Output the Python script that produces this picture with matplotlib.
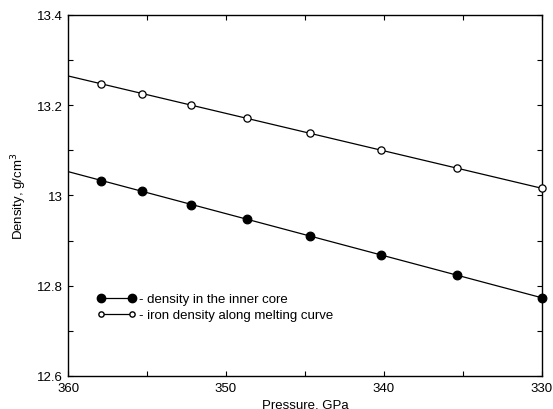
import numpy as np
import matplotlib

matplotlib.use("Agg")
import matplotlib.pyplot as plt
from matplotlib.lines import Line2D
from matplotlib.legend_handler import HandlerLine2D
from matplotlib.ticker import MultipleLocator, FuncFormatter

plt.rcParams["font.family"] = ["Liberation Sans", "DejaVu Sans"]

pressure = [357.9, 355.3, 352.2, 348.7, 344.7, 340.2, 335.4, 330.0]
density_core = [13.033, 13.009, 12.980, 12.948, 12.911, 12.869, 12.823, 12.773]
density_melt = [13.247, 13.226, 13.200, 13.172, 13.138, 13.101, 13.060, 13.016]

label_core = "- density in the inner core"
label_melt = "- iron density along melting curve"

fig = plt.figure(figsize=(5.53, 4.10), dpi=100)
ax = fig.add_axes([0.123, 0.0805, 0.857, 0.8805])

x_lim = (360, 330)
xs = np.linspace(x_lim[0], x_lim[1], 50)
for dens, filled in ((density_core, True), (density_melt, False)):
    # straight fit through the points, drawn across the whole axis
    k, b = np.polyfit(pressure, dens, 1)
    ax.plot(xs, k * xs + b, color="black", lw=0.9)
    ax.plot(pressure, dens, ls="none", marker="o",
            ms=6.2 if filled else 5.2,
            mfc="black" if filled else "white", mec="black", mew=0.9,
            clip_on=False, zorder=3)

ax.set_xlim(*x_lim)
ax.set_ylim(12.6, 13.4)
ax.xaxis.set_major_locator(MultipleLocator(10))
ax.xaxis.set_minor_locator(MultipleLocator(5))
ax.yaxis.set_major_locator(MultipleLocator(0.2))
ax.yaxis.set_minor_locator(MultipleLocator(0.1))
ax.yaxis.set_major_formatter(FuncFormatter(lambda v, p: f"{v:g}"))
ax.tick_params(which="both", direction="in", top=True, right=True,
               labelsize=9.5, length=3.5, width=0.8)
ax.tick_params(axis="x", pad=4)
for s in ax.spines.values():
    s.set_linewidth(1.0)

ax.set_xlabel("Pressure, GPa", fontsize=9.5)
ax.xaxis.set_label_coords(0.5, -0.078)
ax.xaxis.label.set_va("center")
ax.set_ylabel("Density, g/cm$^3$", fontsize=9.5)
ax.yaxis.set_label_coords(-0.103, 0.5)
ax.yaxis.label.set_va("center")

handles = [
    Line2D([], [], color="black", lw=0.9, marker="o", ms=6, mfc="black", mec="black"),
    Line2D([], [], color="black", lw=0.9, marker="o", ms=3.8, mfc="white", mec="black"),
]
ax.legend(handles, [label_core, label_melt], loc="center left",
          bbox_to_anchor=(0.0696, 0.191), frameon=False, numpoints=2,
          borderaxespad=0, borderpad=0,
          handlelength=2.35, handletextpad=0.5, labelspacing=0.28, fontsize=9.5,
          handler_map={Line2D: HandlerLine2D(marker_pad=0)})

fig.savefig("out.png", dpi=100)
